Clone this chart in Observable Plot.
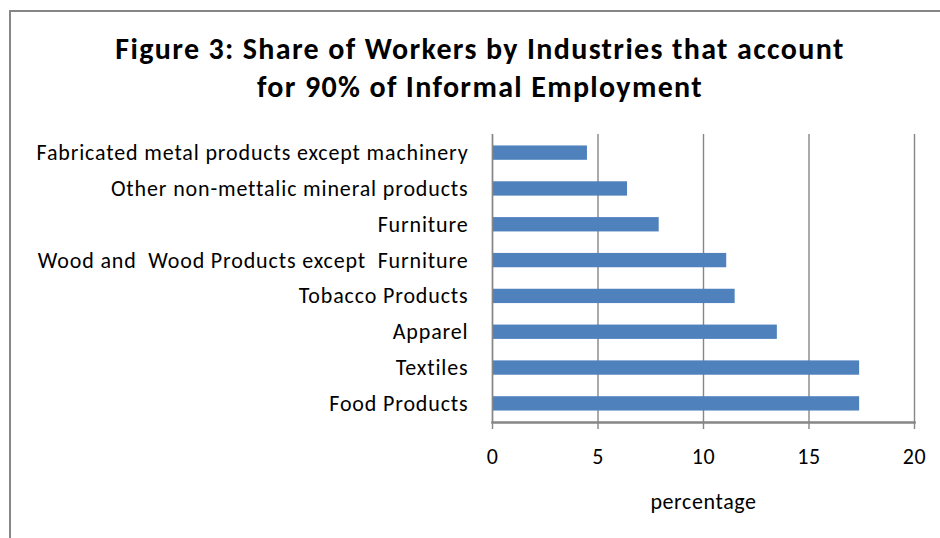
<!DOCTYPE html>
<html>
<head>
<meta charset="utf-8">
<script src="https://cdn.jsdelivr.net/npm/d3@7"></script>
<script src="https://cdn.jsdelivr.net/npm/@observablehq/plot@0.6"></script>
<style>
  html, body { margin: 0; padding: 0; background: #fff; }
  #wrap { position: relative; width: 940px; height: 538px; overflow: hidden; font-family: Carlito, Calibri, Lato, "Open Sans", sans-serif; }
  #border { position: absolute; left: 9px; top: 10px; width: 940px; height: 540px; border-left: 2px solid #868686; border-top: 2px solid #868686; box-sizing: border-box; }
  #title { position: absolute; left: 0; top: 0; width: 960px; height: 120px; text-align: center; font-weight: bold; font-size: 30px; letter-spacing: 1.35px; line-height: 38px; padding-top: 30px; box-sizing: border-box; color: #000; }
  #chart { position: absolute; left: 0; top: 120px; }
  #chart svg text { font-size: 22px; }
  #chart g[aria-label="y-axis tick label"] text { letter-spacing: 0.85px; }
  #chart g[aria-label="x-axis tick label"] text { letter-spacing: 0.6px; }
  #chart g[aria-label="x-axis label"] text { letter-spacing: 0.6px; }
</style>
</head>
<body>
<div id="wrap">
  <div id="border"></div>
  <div id="title">Figure 3: Share of Workers by Industries that account<br>for 90% of Informal Employment</div>
  <div id="chart"></div>
</div>
<script>
const industries = [
  "Fabricated metal products except machinery",
  "Other non-mettalic mineral products",
  "Furniture",
  "Wood and  Wood Products except  Furniture",
  "Tobacco Products",
  "Apparel",
  "Textiles",
  "Food Products"
];
const shares = [4.5, 6.4, 7.9, 11.1, 11.5, 13.5, 17.4, 17.4];
const xTicks = [0, 5, 10, 15, 20];
const xLabel = "percentage";

const data = industries.map((name, i) => ({name, value: shares[i]}));

const chart = Plot.plot({
  width: 940,
  height: 418,
  marginTop: 14,
  marginBottom: 116,
  marginLeft: 492,
  marginRight: 26,
  style: {fontFamily: "Carlito, Calibri, Lato, 'Open Sans', sans-serif", fontSize: "22px", color: "#000", background: "transparent"},
  x: {domain: [0, 20]},
  y: {domain: industries, paddingInner: 0.6, paddingOuter: 0.32, round: false},
  marks: [
    Plot.gridX(xTicks, {stroke: "#868686", strokeOpacity: 1, strokeWidth: 1.4}),
    Plot.barX(data, {x: "value", y: "name", fill: "#4F81BD"}),
    Plot.frame({anchor: "bottom", stroke: "#868686", strokeWidth: 2.5}),
    Plot.ruleX([0], {stroke: "#868686", strokeWidth: 1.4}),
    Plot.axisY({tickSize: 0, tickPadding: 24, fill: "#000", label: null}),
    Plot.axisX(xTicks, {tickSize: 7, tickPadding: 19, stroke: "#868686", strokeWidth: 1.4, fill: "#000", label: xLabel, labelAnchor: "center", labelArrow: "none", labelOffset: 86})
  ]
});
document.getElementById("chart").appendChild(chart);
</script>
</body>
</html>
